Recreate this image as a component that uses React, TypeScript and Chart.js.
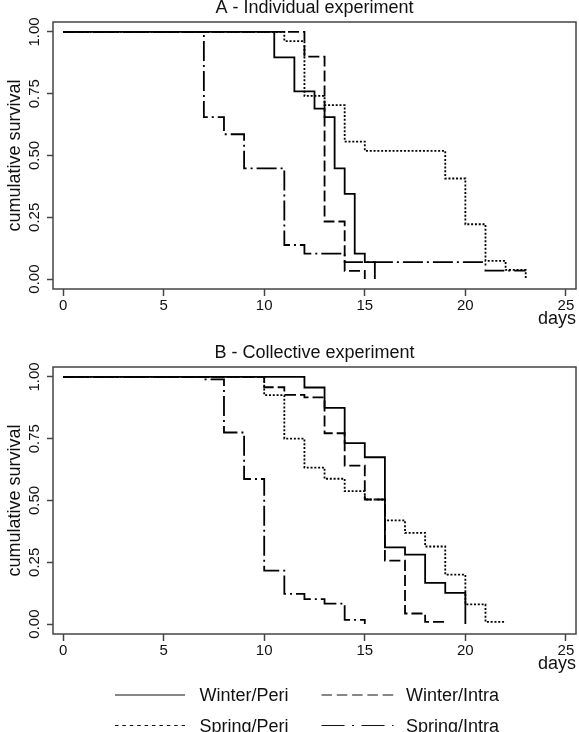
import React, { useEffect, useRef } from 'react';
import { Chart, registerables } from 'chart.js';

Chart.register(...registerables);

const FONT = '"Liberation Sans", Arial, Helvetica, sans-serif';

// Axis ticks
const xTicks = [0, 5, 10, 15, 20, 25];
const yTicks = [0, 0.25, 0.5, 0.75, 1];

// Series names (legend order)
const seriesNames = ['Winter/Peri', 'Winter/Intra', 'Spring/Peri', 'Spring/Intra'];

// Panel A - Individual experiment (event day, survival after the event)
const aWinterPeriDays = [0, 10.5, 11.5, 12.5, 13, 13.5, 14, 14.5, 15, 15.5];
const aWinterPeriSurv = [1, 0.897, 0.759, 0.69, 0.655, 0.448, 0.345, 0.103, 0.069, 0];
const aWinterIntraDays = [0, 12, 13, 14, 15];
const aWinterIntraSurv = [1, 0.9, 0.233, 0.033, 0];
const aSpringPeriDays = [0, 11, 12, 13, 14, 15, 19, 20, 21, 22, 23];
const aSpringPeriSurv = [1, 0.963, 0.741, 0.704, 0.556, 0.519, 0.407, 0.222, 0.074, 0.037, 0];
const aSpringIntraDays = [0, 7, 8, 9, 11, 12, 14, 21, 23];
const aSpringIntraSurv = [1, 0.655, 0.586, 0.448, 0.138, 0.103, 0.069, 0.034, 0.034];

// Panel B - Collective experiment
const bWinterPeriDays = [0, 12, 13, 14, 15, 16, 17, 18, 19, 20];
const bWinterPeriSurv = [1, 0.957, 0.875, 0.732, 0.675, 0.31, 0.281, 0.167, 0.126, 0];
const bWinterIntraDays = [0, 10, 11, 12, 13, 14, 15, 16, 17, 18, 19];
const bWinterIntraSurv = [1, 0.958, 0.927, 0.917, 0.772, 0.641, 0.504, 0.257, 0.043, 0.009, 0.009];
const bSpringPeriDays = [0, 10, 11, 12, 13, 14, 15, 16, 17, 18, 19, 20, 21, 22];
const bSpringPeriSurv = [1, 0.926, 0.75, 0.633, 0.588, 0.538, 0.504, 0.42, 0.369, 0.314, 0.2, 0.08, 0.009, 0.009];
const bSpringIntraDays = [0, 7, 8, 9, 10, 11, 12, 13, 14, 15];
const bSpringIntraSurv = [1, 0.99, 0.775, 0.587, 0.216, 0.122, 0.101, 0.083, 0.017, 0];

// Line styles (styling only)
const panelDashes: number[][] = [[], [11, 4], [2, 1.8], [20, 4, 2, 4]];
const legendDashes: number[][] = [[], [10.5, 4.8], [3.5, 3.9], [23, 7.5, 2, 7.5]];

const toPoints = (days: number[], surv: number[]) => days.map((d, i) => ({ x: d, y: surv[i] }));

const framePlugin = {
  id: 'frame',
  afterDraw(chart: any, _args: any, opts: any) {
    const { ctx, chartArea } = chart;
    const { left, top, right, bottom } = chartArea;
    ctx.save();
    ctx.strokeStyle = '#444';
    ctx.lineWidth = 1.5;
    ctx.strokeRect(left, top, right - left, bottom - top);
    ctx.fillStyle = '#111';
    ctx.font = `18px ${FONT}`;
    ctx.textAlign = 'center';
    ctx.textBaseline = 'alphabetic';
    ctx.fillText(opts.title, (left + right) / 2, top - 9);
    ctx.restore();
  },
};

const legendPlugin = {
  id: 'kmLegend',
  afterDraw(chart: any, _args: any, opts: any) {
    if (!opts || !opts.show) return;
    const { ctx } = chart;
    const cols = [
      { x0: 115, x1: 185, tx: 199.5 },
      { x0: 321.5, x1: 393.5, tx: 406 },
    ];
    const rows = [
      { ly: 360, ty: 366 },
      { ly: 390.5, ty: 396.5 },
    ];
    ctx.save();
    seriesNames.forEach((name, i) => {
      const c = cols[i % 2];
      const r = rows[Math.floor(i / 2)];
      ctx.beginPath();
      ctx.setLineDash(legendDashes[i]);
      ctx.strokeStyle = '#111';
      ctx.lineWidth = 1.2;
      ctx.moveTo(c.x0, r.ly);
      ctx.lineTo(c.x1, r.ly);
      ctx.stroke();
      ctx.setLineDash([]);
      ctx.fillStyle = '#111';
      ctx.font = `18px ${FONT}`;
      ctx.textAlign = 'left';
      ctx.textBaseline = 'alphabetic';
      ctx.fillText(name, c.tx, r.ty);
    });
    ctx.restore();
  },
};

function makeConfig(title: string, series: { x: number; y: number }[][], padTop: number, padBottom: number, showLegend: boolean): any {
  const tickGrid = (len: number) => ({
    display: true,
    drawOnChartArea: false,
    drawTicks: true,
    tickLength: len,
    tickWidth: 1.5,
    tickColor: '#444',
  });
  return {
    type: 'line',
    data: {
      datasets: series.map((pts, i) => ({
        label: seriesNames[i],
        data: pts,
        borderColor: '#000',
        borderWidth: 1.8,
        borderDash: panelDashes[i],
        stepped: true,
        pointRadius: 0,
        pointHoverRadius: 0,
        fill: false,
        tension: 0,
      })),
    },
    options: {
      responsive: false,
      animation: false,
      events: [],
      layout: { padding: { top: padTop, right: 3, bottom: padBottom, left: 0 } },
      plugins: {
        legend: { display: false },
        tooltip: { enabled: false },
        title: { display: false },
        frame: { title },
        kmLegend: { show: showLegend },
      },
      scales: {
        x: {
          type: 'linear',
          min: -0.5,
          max: 25.5,
          afterBuildTicks: (s: any) => {
            s.ticks = xTicks.map((v) => ({ value: v }));
          },
          afterFit: (s: any) => {
            s.height = 46;
            s.paddingLeft = 0;
            s.paddingRight = 0;
          },
          grid: tickGrid(7),
          border: { display: false },
          ticks: {
            color: '#111',
            font: { family: FONT, size: 15 },
            padding: 1,
            maxRotation: 0,
            minRotation: 0,
            autoSkip: false,
            callback: (v: any) => String(v),
          },
          title: {
            display: true,
            text: 'days',
            align: 'end',
            color: '#111',
            font: { family: FONT, size: 18 },
            padding: { top: 0, bottom: 5.4 },
          },
        },
        y: {
          type: 'linear',
          min: -0.04,
          max: 1.04,
          afterBuildTicks: (s: any) => {
            s.ticks = yTicks.map((v) => ({ value: v }));
          },
          afterFit: (s: any) => {
            s.width = 53;
            s.paddingTop = 0;
            s.paddingBottom = 0;
          },
          grid: tickGrid(6),
          border: { display: false },
          ticks: {
            color: '#111',
            font: { family: FONT, size: 15 },
            padding: -2,
            minRotation: 90,
            maxRotation: 90,
            crossAlign: 'center',
            autoSkip: false,
            callback: (v: any) => Number(v).toFixed(2),
          },
          title: {
            display: true,
            text: 'cumulative survival',
            color: '#111',
            font: { family: FONT, size: 18 },
            padding: { top: 4, bottom: 0 },
          },
        },
      },
    },
    plugins: [framePlugin, legendPlugin],
  };
}

export default function App() {
  const refA = useRef<HTMLCanvasElement>(null);
  const refB = useRef<HTMLCanvasElement>(null);

  useEffect(() => {
    document.body.style.margin = '0';
    const seriesA = [
      toPoints(aWinterPeriDays, aWinterPeriSurv),
      toPoints(aWinterIntraDays, aWinterIntraSurv),
      toPoints(aSpringPeriDays, aSpringPeriSurv),
      toPoints(aSpringIntraDays, aSpringIntraSurv),
    ];
    const seriesB = [
      toPoints(bWinterPeriDays, bWinterPeriSurv),
      toPoints(bWinterIntraDays, bWinterIntraSurv),
      toPoints(bSpringPeriDays, bSpringPeriSurv),
      toPoints(bSpringIntraDays, bSpringIntraSurv),
    ];
    const a = new Chart(refA.current as HTMLCanvasElement, makeConfig('A - Individual experiment', seriesA, 22, 0, false));
    const b = new Chart(refB.current as HTMLCanvasElement, makeConfig('B - Collective experiment', seriesB, 32, 52, true));
    return () => {
      a.destroy();
      b.destroy();
    };
  }, []);

  return (
    <div style={{ position: 'relative', width: 579, height: 732, background: '#fff', overflow: 'hidden' }}>
      <canvas ref={refA} width={579} height={335} style={{ position: 'absolute', left: 0, top: 0 }} />
      <canvas ref={refB} width={579} height={397} style={{ position: 'absolute', left: 0, top: 335 }} />
    </div>
  );
}
